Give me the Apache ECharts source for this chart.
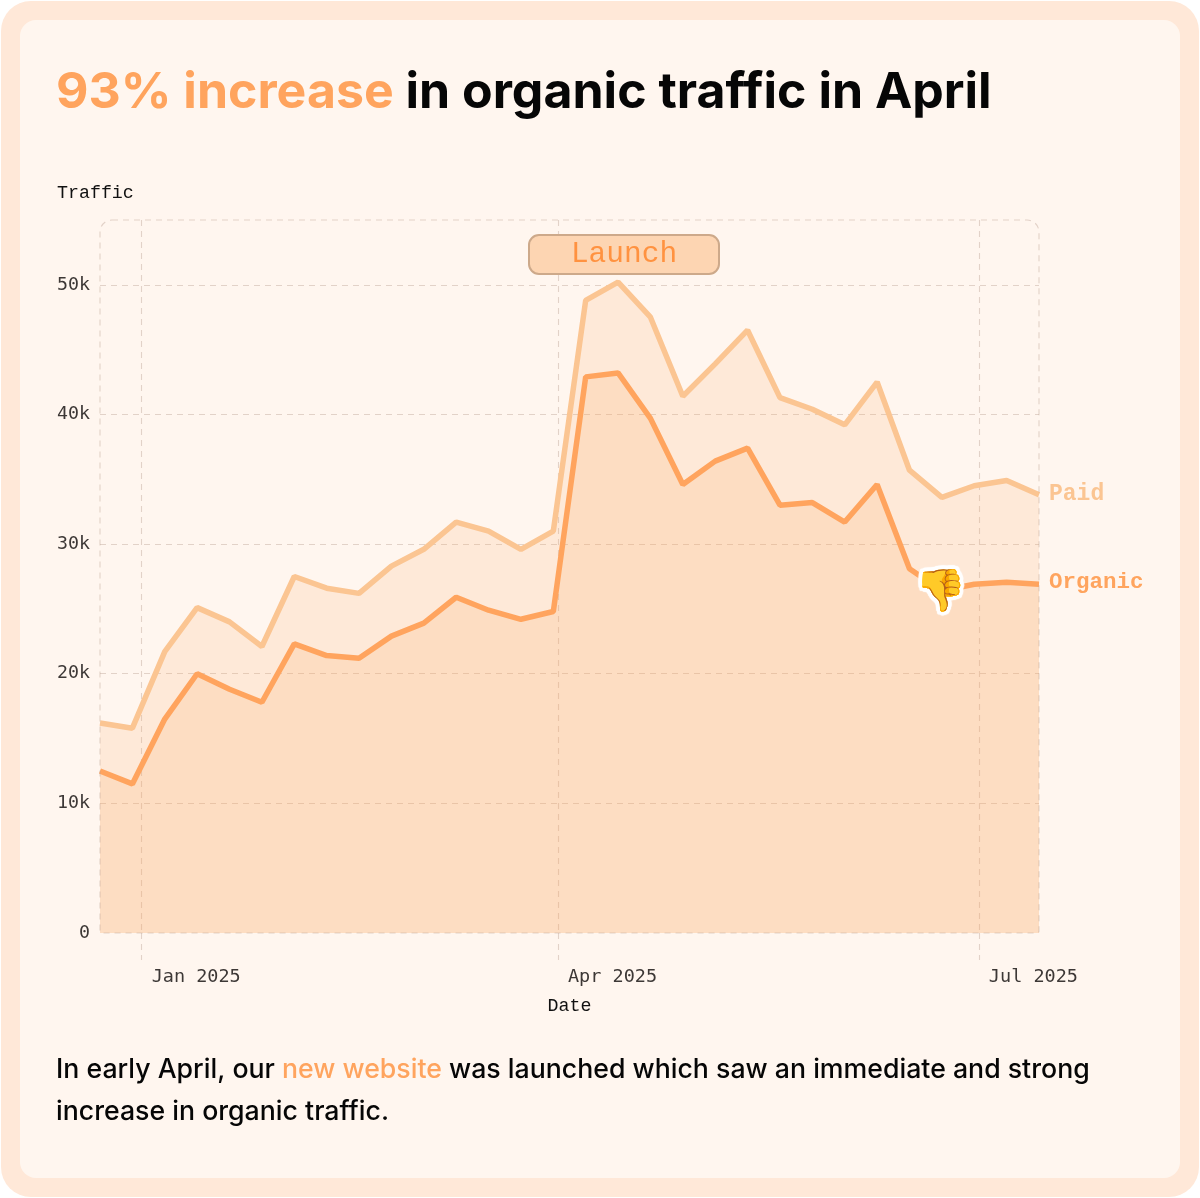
<!DOCTYPE html>
<html><head><meta charset="utf-8">
<style>html,body{margin:0;padding:0;background:#fff}#c{width:1200px;height:1198px}</style>
<script src="https://cdn.jsdelivr.net/npm/echarts@6/dist/echarts.min.js"></script>
</head><body><div id="c"></div>
<script>
const dates=['2024-12-23','2024-12-30','2025-01-06','2025-01-13','2025-01-20','2025-01-27','2025-02-03','2025-02-10','2025-02-17','2025-02-24','2025-03-03','2025-03-10','2025-03-17','2025-03-24','2025-03-31','2025-04-07','2025-04-14','2025-04-21','2025-04-28','2025-05-05','2025-05-12','2025-05-19','2025-05-26','2025-06-02','2025-06-09','2025-06-16','2025-06-23','2025-06-30','2025-07-07','2025-07-14'];
const organic=[12500,11500,16500,20000,18800,17800,22300,21400,21200,22900,23900,25900,24900,24200,24800,42900,43200,39700,34600,36400,37400,33000,33200,31700,34600,28100,26400,26900,27050,26900];
const paid=[16200,15800,21700,25100,24000,22100,27500,26600,26200,28300,29600,31700,31000,29600,31000,48800,50200,47500,41400,43900,46500,41300,40400,39200,42500,35700,33600,34500,34900,33800];
const xTicks=['2025-01-01','2025-04-01','2025-07-01'];
const xTickLabels=['Jan 2025','Apr 2025','Jul 2025'];
const emojiDate='2025-06-23', emojiValue=26400;

const ts=d=>Date.parse(d+'T00:00:00Z');
const MONO='"DejaVu Sans Mono",monospace', SLAB='"Liberation Mono",monospace', SANS='Inter,"Noto Sans",sans-serif';
const gridColor='rgba(185,160,145,0.42)';
const gridLine={color:gridColor,width:1.1,type:[6,5]};
const outline=[[4,0],[-4,0],[0,4],[0,-4],[3,3],[-3,3],[3,-3],[-3,-3]];
const chart=echarts.init(document.getElementById('c'),null,{renderer:'canvas'});
chart.setOption({
 animation:false,
 backgroundColor:'#fff',
 textStyle:{fontFamily:MONO},
 grid:{left:100,right:161,top:220,bottom:265,containLabel:false},
 xAxis:{type:'value',min:ts(dates[0]),max:ts(dates[dates.length-1]),
  name:'Date',nameLocation:'middle',nameGap:64,nameTextStyle:{fontFamily:SLAB,fontSize:18.3,color:'#111'},
  axisLine:{show:false},
  axisTick:{show:true,length:27,lineStyle:gridLine,customValues:xTicks.map(ts)},
  splitLine:{show:true,lineStyle:gridLine},
  axisLabel:{customValues:xTicks.map(ts),margin:35,fontFamily:MONO,fontSize:18.5,color:'#3d3836',showMinLabel:true,showMaxLabel:true,
    formatter:v=>xTickLabels[xTicks.map(ts).indexOf(v)]||'',align:'left',padding:[0,0,0,10]}
 },
 yAxis:{type:'value',min:0,max:55000,interval:10000,
  name:'Traffic',nameLocation:'end',nameGap:18,nameTextStyle:{fontFamily:SLAB,fontSize:18.3,color:'#111',align:'left',padding:[0,0,0,-43]},
  axisLine:{show:false},axisTick:{show:false},
  splitLine:{show:true,showMinLine:false,showMaxLine:false,lineStyle:gridLine},
  axisLabel:{margin:10,fontFamily:MONO,fontSize:18.3,color:'#3d3836',padding:[5,0,0,0],
    formatter:v=>v>50000?'':(v===0?'0':(v/1000)+'k')}
 },
 series:[
  {name:'Paid',type:'line',symbol:'none',z:2,data:dates.map((d,i)=>[ts(d),paid[i]]),
   lineStyle:{color:'#FBC592',width:5.5},areaStyle:{color:'rgba(250,170,100,0.16)',opacity:1,origin:'start'},
   endLabel:{show:true,formatter:'Paid',fontFamily:SLAB,fontWeight:'bold',fontSize:23,color:'#FBC592',distance:10,offset:[0,-1]}},
  {name:'Organic',type:'line',symbol:'none',z:3,data:dates.map((d,i)=>[ts(d),organic[i]]),
   lineStyle:{color:'#FFA45E',width:5.5},areaStyle:{color:'rgba(250,170,100,0.19)',opacity:1,origin:'start'},
   endLabel:{show:true,formatter:'Organic',fontFamily:SLAB,fontWeight:'bold',fontSize:22.5,color:'#FFA45E',distance:10,offset:[0,-2]},
   markPoint:{symbol:'circle',symbolSize:1,silent:true,
    label:{show:true,position:'inside',formatter:'\u{1F44E}',fontSize:41,offset:[-1,3],textShadowColor:'#fff',textShadowBlur:1},
    data:outline.map(o=>({coord:[ts(emojiDate),emojiValue],label:{textShadowOffsetX:o[0],textShadowOffsetY:o[1]}}))}}
 ],
 graphic:[
  {type:'rect',z:-11,silent:true,shape:{x:1,y:1,width:1198,height:1196,r:30},style:{fill:'#FFE8D8'}},
  {type:'rect',z:-10,silent:true,shape:{x:20,y:20,width:1160,height:1158,r:16},style:{fill:'#FFF6EF'}},
  {type:'rect',z:50,silent:true,shape:{x:100,y:220,width:939,height:713,r:[12,12,2,2]},style:{fill:'none',stroke:gridColor,lineWidth:1.1,lineDash:[6,5]}},
  {type:'text',silent:true,x:56,y:68,style:{rich:{a:{fill:'#FFA45E',fontFamily:SANS,fontSize:50,fontWeight:700},b:{fill:'#060606',fontFamily:SANS,fontSize:50,fontWeight:700}},text:'{a|93% increase}{b| in organic traffic in April}'}},
  {type:'text',silent:true,x:56,y:1056,style:{rich:{a:{fill:'#FFA45E',fontFamily:SANS,fontSize:26.7,fontWeight:500},b:{fill:'#060606',fontFamily:SANS,fontSize:26.7,fontWeight:500}},text:'{b|In early April, our }{a|new website}{b| was launched which saw an immediate and strong}'}},
  {type:'text',silent:true,x:56,y:1098,style:{fill:'#060606',font:'500 26.7px '+SANS,text:'increase in organic traffic.'}},
  {type:'rect',z:60,silent:true,shape:{x:529,y:235,width:190,height:39,r:10},style:{fill:'#FDD5B2',stroke:'#CDA98A',lineWidth:2}},
  {type:'text',z:61,silent:true,x:624,y:254,style:{text:'Launch',fill:'#FF9240',font:'29.5px '+SLAB,align:'center',verticalAlign:'middle'}}
 ]
});
</script></body></html>
